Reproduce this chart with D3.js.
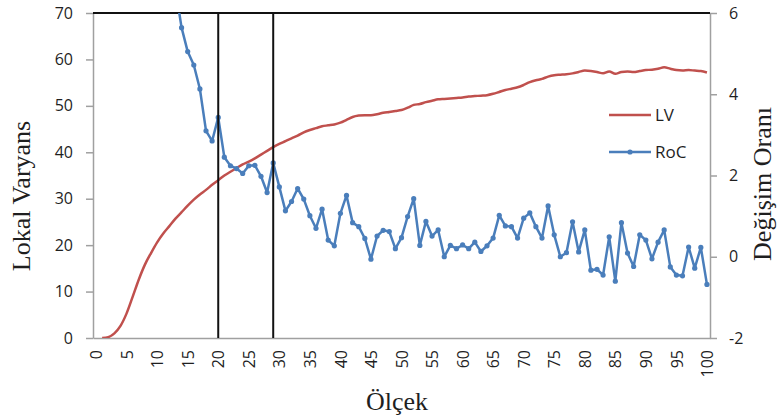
<!DOCTYPE html>
<html>
<head>
<meta charset="utf-8">
<script src="https://cdn.jsdelivr.net/npm/d3@7"></script>
<style>
  body { margin: 0; background: #fff; }
  svg text { fill: #1f1f1f; }
</style>
</head>
<body>
<div id="app"></div>
<script>
// Ölçek (scale) values on the x axis
const olcek = d3.range(0, 101);
const xTicks = d3.range(0, 101, 5);

// LV (lokal varyans) for scales 1..100
const lvScale = d3.range(1, 101);
const lvValues = [
  0, 0.2, 1.0, 2.6, 5.3, 8.9, 12.6, 15.8, 18.3, 20.6,
  22.5, 24.1, 25.7, 27.1, 28.5, 29.8, 30.9, 31.9, 33.0, 34.0,
  35.0, 35.8, 36.6, 37.4, 38.0, 38.7, 39.5, 40.3, 41.1, 41.8,
  42.4, 43.0, 43.6, 44.3, 44.8, 45.2, 45.6, 45.8, 46.0, 46.4,
  47.0, 47.6, 47.9, 48.0, 48.0, 48.2, 48.5, 48.7, 48.9, 49.1,
  49.6, 50.2, 50.4, 50.8, 51.1, 51.4, 51.5, 51.6, 51.7, 51.8,
  52.0, 52.1, 52.2, 52.3, 52.6, 53.0, 53.4, 53.7, 54.0, 54.5,
  55.1, 55.5, 55.8, 56.3, 56.6, 56.7, 56.8, 57.0, 57.3, 57.6,
  57.5, 57.3, 57.0, 57.4, 56.9, 57.3, 57.4, 57.3, 57.5, 57.7,
  57.8, 58.0, 58.3, 58.0, 57.7, 57.6, 57.7, 57.6, 57.5, 57.2
];

// RoC (değişim oranı) for scales 13..100
const rocScale = d3.range(13, 101);
const rocValues = [
  6.6, 5.64, 5.05, 4.72, 4.13, 3.10, 2.85, 3.43, 2.45, 2.24,
  2.17, 2.05, 2.24, 2.25, 1.98, 1.58, 2.31, 1.72, 1.13, 1.36,
  1.68, 1.42, 1.01, 0.70, 1.17, 0.41, 0.27, 1.07, 1.51, 0.84,
  0.74, 0.45, -0.06, 0.51, 0.65, 0.62, 0.20, 0.47, 0.99, 1.43,
  0.28, 0.87, 0.51, 0.66, 0.00, 0.28, 0.20, 0.29, 0.20, 0.36,
  0.13, 0.27, 0.46, 1.02, 0.76, 0.74, 0.46, 0.95, 1.08, 0.74,
  0.46, 1.25, 0.54, 0.00, 0.10, 0.86, 0.12, 0.66, -0.33, -0.31,
  -0.45, 0.49, -0.60, 0.84, 0.09, -0.24, 0.54, 0.41, -0.05, 0.36,
  0.66, -0.25, -0.45, -0.47, 0.24, -0.28, 0.23, -0.68
];

const leftTicks = d3.range(0, 71, 10);
const rightTicks = [-2, 0, 2, 4, 6];
const markerLines = [20, 29];

const width = 783;
const height = 418;
const marginTop = 13;
const marginRight = 73;
const marginBottom = 80;
const marginLeft = 93;

const red = "#C0504D";
const blue = "#4A7EBB";
const axisGray = "#A0A0A0";
const tickFont = "'Open Sans', sans-serif";
const titleFont = "'Liberation Serif', 'Times New Roman', serif";

const x = d3.scalePoint()
  .domain(olcek)
  .range([marginLeft, width - marginRight])
  .padding(0.5);

const yL = d3.scaleLinear()
  .domain([0, 70])
  .range([height - marginBottom, marginTop]);

const yR = d3.scaleLinear()
  .domain([-2, 6])
  .range([height - marginBottom, marginTop]);

const svg = d3.select("#app").append("svg")
  .attr("width", width)
  .attr("height", height);

svg.append("defs").append("clipPath")
  .attr("id", "plot")
  .append("rect")
  .attr("x", marginLeft)
  .attr("y", marginTop)
  .attr("width", width - marginLeft - marginRight)
  .attr("height", height - marginTop - marginBottom);

// left axis
const gL = svg.append("g")
  .attr("transform", `translate(${marginLeft},0)`)
  .call(d3.axisLeft(yL).tickValues(leftTicks).tickSize(7).tickSizeOuter(0).tickPadding(13));

// right axis
const gR = svg.append("g")
  .attr("transform", `translate(${width - marginRight},0)`)
  .call(d3.axisRight(yR).tickValues(rightTicks).tickSize(7).tickSizeOuter(0).tickPadding(12)
    .tickFormat((d) => String(d)));

// bottom axis
const gB = svg.append("g")
  .attr("transform", `translate(0,${height - marginBottom})`)
  .call(d3.axisBottom(x).tickValues(xTicks).tickSize(0).tickSizeOuter(0));

gB.selectAll(".tick text")
  .attr("transform", "rotate(-90)")
  .attr("x", -12)
  .attr("y", 0)
  .attr("dy", "0.35em")
  .style("text-anchor", "end");

[gL, gR, gB].forEach((g) => {
  g.select(".domain").attr("stroke", axisGray).attr("stroke-width", 1.5);
  g.selectAll(".tick line").attr("stroke", axisGray).attr("stroke-width", 1.5);
  g.selectAll(".tick text")
    .style("font-family", tickFont)
    .style("font-size", "16px")
    .attr("fill", "#1f1f1f");
});

// top border
svg.append("line")
  .attr("x1", marginLeft)
  .attr("x2", width - marginRight)
  .attr("y1", marginTop)
  .attr("y2", marginTop)
  .attr("stroke", "#111")
  .attr("stroke-width", 2);

const plot = svg.append("g").attr("clip-path", "url(#plot)");

// LV line
plot.append("path")
  .datum(lvScale.map((s, i) => [s, lvValues[i]]))
  .attr("fill", "none")
  .attr("stroke", red)
  .attr("stroke-width", 2.5)
  .attr("stroke-linejoin", "round")
  .attr("d", d3.line().x((d) => x(d[0])).y((d) => yL(d[1])).curve(d3.curveMonotoneX));

// RoC line + markers
const roc = rocScale.map((s, i) => [s, rocValues[i]]);
plot.append("path")
  .datum(roc)
  .attr("fill", "none")
  .attr("stroke", blue)
  .attr("stroke-width", 2.5)
  .attr("stroke-linejoin", "round")
  .attr("d", d3.line().x((d) => x(d[0])).y((d) => yR(d[1])));

plot.selectAll("circle")
  .data(roc)
  .join("circle")
  .attr("cx", (d) => x(d[0]))
  .attr("cy", (d) => yR(d[1]))
  .attr("r", 2.6)
  .attr("fill", blue);

// vertical marker lines
svg.selectAll(".vline")
  .data(markerLines)
  .join("line")
  .attr("class", "vline")
  .attr("x1", (d) => x(d))
  .attr("x2", (d) => x(d))
  .attr("y1", marginTop)
  .attr("y2", height - marginBottom)
  .attr("stroke", "#111")
  .attr("stroke-width", 2);

// legend
const legend = svg.append("g").attr("transform", "translate(609,0)");
legend.append("line")
  .attr("x1", 0).attr("x2", 42).attr("y1", 115).attr("y2", 115)
  .attr("stroke", red).attr("stroke-width", 2.5);
legend.append("text")
  .text("LV")
  .attr("x", 46).attr("y", 115).attr("dy", "0.35em")
  .style("font-family", tickFont).style("font-size", "17px");
legend.append("line")
  .attr("x1", 0).attr("x2", 42).attr("y1", 152).attr("y2", 152)
  .attr("stroke", blue).attr("stroke-width", 2.5);
legend.append("circle")
  .attr("cx", 21).attr("cy", 152).attr("r", 2.6).attr("fill", blue);
legend.append("text")
  .text("RoC")
  .attr("x", 46).attr("y", 152).attr("dy", "0.35em")
  .style("font-family", tickFont).style("font-size", "17px");

// axis titles
svg.append("text")
  .text("Lokal Varyans")
  .attr("transform", "translate(30,196) rotate(-90)")
  .attr("text-anchor", "middle")
  .style("font-family", titleFont)
  .style("font-size", "26px");

svg.append("text")
  .text("Değişim Oranı")
  .attr("transform", "translate(771,184) rotate(-90)")
  .attr("text-anchor", "middle")
  .style("font-family", titleFont)
  .style("font-size", "26px");

svg.append("text")
  .text("Ölçek")
  .attr("x", 397)
  .attr("y", 410)
  .attr("text-anchor", "middle")
  .style("font-family", titleFont)
  .style("font-size", "26px");
</script>
</body>
</html>
